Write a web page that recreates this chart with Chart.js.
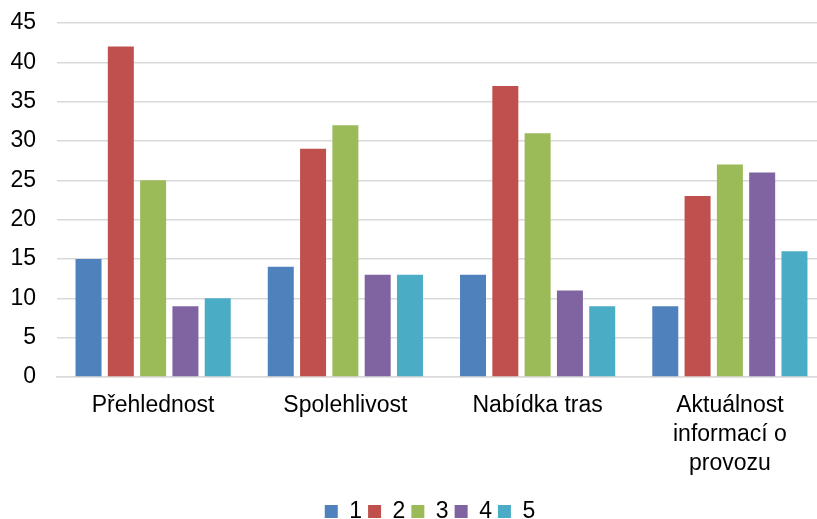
<!DOCTYPE html>
<html lang="en">
  <head>
    <meta charset="UTF-8" />
    <title>Hodnocení</title>
    <script src="https://cdn.jsdelivr.net/npm/chart.js"></script>
    <style>
      html, body { margin: 0; padding: 0; background: #fff; overflow: hidden; }
      /* plot runs a little past the right edge, as in the original crop */
      .chart-box { width: 826px; height: 519px; }
    </style>
  </head>
  <body>
    <div class="chart-box"><canvas id="chart"></canvas></div>
    <script>
      const categories = [
        "Přehlednost",
        "Spolehlivost",
        "Nabídka tras",
        ["Aktuálnost", "informací o", "provozu"],
      ];
      const series1 = [15, 14, 13, 9];
      const series2 = [42, 29, 37, 23];
      const series3 = [25, 32, 31, 27];
      const series4 = [9, 13, 11, 26];
      const series5 = [10, 13, 9, 16];
      const seriesLabels = ["1", "2", "3", "4", "5"];
      const colors = ["#4f81bd", "#c0504d", "#9bbb59", "#8064a2", "#4bacc6"];

      const family = "'Liberation Sans', Arial, sans-serif";
      const font = { family: family, size: 23, lineHeight: 1.26 };

      // the original legend sits a bit right of the plot centre
      const shiftLegend = {
        id: "shiftLegend",
        afterLayout(chart) {
          chart.legend.left += 12;
          chart.legend.right += 12;
        },
      };

      new Chart(document.getElementById("chart").getContext("2d"), {
        type: "bar",
        data: {
          labels: categories,
          datasets: [series1, series2, series3, series4, series5].map((d, i) => ({
            label: seriesLabels[i],
            data: d,
            backgroundColor: colors[i],
            barPercentage: 0.805,
            categoryPercentage: 0.84,
          })),
        },
        options: {
          responsive: true,
          maintainAspectRatio: false,
          animation: false,
          layout: { padding: { left: 10, right: 0, top: 23, bottom: -14 } },
          plugins: {
            legend: {
              position: "bottom",
              labels: {
                font: { family: family, size: 23, lineHeight: 1.0 },
                color: "#000",
                boxWidth: 13,
                boxHeight: 13,
                padding: 6,
              },
            },
            tooltip: { enabled: false },
          },
          scales: {
            x: {
              grid: { display: false },
              border: { color: "#d9d9d9", width: 1.5 },
              ticks: { font: font, color: "#000", maxRotation: 0, padding: 6 },
              afterFit(scale) {
                scale.height = 117;
                scale.paddingLeft = 0;
                scale.paddingRight = 0;
              },
            },
            y: {
              min: 0,
              max: 45,
              border: { display: false },
              grid: { color: "#d9d9d9", lineWidth: 1.5, drawTicks: false },
              ticks: { stepSize: 5, font: font, color: "#000", padding: 21 },
              afterFit(scale) {
                scale.width = 47;
                scale.paddingTop = 0;
                scale.paddingBottom = 0;
              },
            },
          },
        },
        plugins: [shiftLegend],
      });
    </script>
  </body>
</html>
